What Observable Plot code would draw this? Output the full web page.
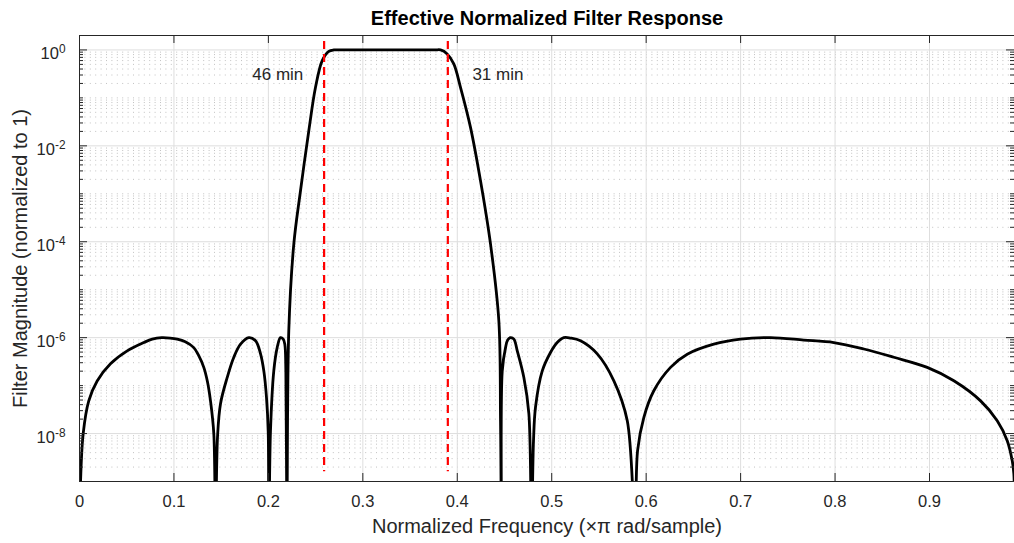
<!DOCTYPE html>
<html>
<head>
<meta charset="utf-8">
<script src="https://cdn.jsdelivr.net/npm/d3@7"></script>
<script src="https://cdn.jsdelivr.net/npm/@observablehq/plot@0.6"></script>
<style>
  html, body { margin: 0; padding: 0; background: #fff; }
  #chart svg { display: block; }
</style>
</head>
<body>
<div id="chart"></div>
<script>
// ---- Data ----
const freq = [
  0.0000, 0.0011, 0.0039, 0.0098, 0.0187, 0.0328, 0.0505, 0.0681, 0.0770, 0.0870,
  0.0960, 0.1035, 0.1120, 0.1210, 0.1260, 0.1316, 0.1355, 0.1387, 0.1422, 0.1440,
  0.1462, 0.1493, 0.1564, 0.1634, 0.1705, 0.1793, 0.1864, 0.1917, 0.1952, 0.1980,
  0.1998, 0.2005,
  0.2022, 0.2057, 0.2093, 0.2128, 0.2157, 0.2174, 0.2185, 0.2196,
  0.2216, 0.2269, 0.2340, 0.2428, 0.2499, 0.2570, 0.2640, 0.2693, 0.2750, 0.3760,
  0.3823, 0.3893, 0.3963, 0.4034, 0.4140, 0.4246, 0.4352, 0.4440, 0.4458, 0.4468,
  0.4476, 0.4511, 0.4535, 0.4564, 0.4599, 0.4635, 0.4705, 0.4758, 0.4786,
  0.4807, 0.4828, 0.4899, 0.4987, 0.5058, 0.5128, 0.5199, 0.5305, 0.5482, 0.5658,
  0.5800, 0.5882,
  0.5909, 0.5975, 0.6081, 0.6258, 0.6435, 0.6716, 0.6999, 0.7317, 0.7670, 0.7987,
  0.8305, 0.8622, 0.8976, 0.9258, 0.9541, 0.9717, 0.9823, 0.9876, 0.9893, 0.9900
];
const magnitude = [
  1e-10, 1.0e-9, 1.0e-8, 4.8e-8, 1.25e-7, 2.85e-7, 5.3e-7, 7.9e-7, 9.3e-7, 1.0e-6,
  9.8e-7, 9.3e-7, 8.2e-7, 6.2e-7, 4.3e-7, 2.4e-7, 1.2e-7, 4.8e-8, 1.0e-8, 1e-10,
  9e-9, 4.2e-8, 1.48e-7, 3.9e-7, 7.3e-7, 1.0e-6, 8.6e-7, 4.6e-7, 2.0e-7, 5.6e-8,
  1.1e-8, 1e-10,
  1.1e-8, 2.0e-7, 6.2e-7, 1.0e-6, 9.3e-7, 7.3e-7, 2.0e-7, 1e-10,
  1.4e-6, 8.9e-5, 1.16e-3, 2.07e-2, 0.166, 0.598, 0.935, 1.0, 1.0, 1.0,
  1.0, 0.826, 0.51, 0.166, 0.0243, 1.87e-3, 8.95e-5, 2.25e-6, 1.8e-8, 1e-10,
  2.0e-7, 6.2e-7, 9.0e-7, 1.0e-6, 9.3e-7, 5.3e-7, 1.47e-7, 2.6e-8, 1e-10,
  7e-9, 3.5e-8, 2.0e-7, 4.9e-7, 7.9e-7, 1.0e-6, 9.8e-7, 8.6e-7, 4.6e-7, 1.26e-7,
  1.85e-8, 1e-10,
  4.4e-9, 2.16e-8, 7.8e-8, 2.4e-7, 4.5e-7, 7.3e-7, 9.3e-7, 1.0e-6, 8.9e-7, 7.9e-7,
  5.8e-7, 3.9e-7, 2.4e-7, 1.26e-7, 4.8e-8, 1.85e-8, 7.1e-9, 2.7e-9, 1.45e-9, 1e-10
];
const cutoffFreqs = [0.259, 0.39];
const cutoffTop = 1.5;
const cutoffBottom = 1.6e-9;
const leftNoteX = [0.237];
const rightNoteX = [0.416];
const noteY = 0.305;
const leftNoteText = ["46 min"];
const rightNoteText = ["31 min"];
const xTicks = [0, 0.1, 0.2, 0.3, 0.4, 0.5, 0.6, 0.7, 0.8, 0.9];
const xTickLabels = ["0", "0.1", "0.2", "0.3", "0.4", "0.5", "0.6", "0.7", "0.8", "0.9"];
const yTicks = [1e0, 1e-2, 1e-4, 1e-6, 1e-8];
const yTickLabels = ["10^0", "10^-2", "10^-4", "10^-6", "10^-8"];
const xDomain = [0, 0.99];
const yDomain = [1e-9, 2];
const titleText = "Effective Normalized Filter Response";
const xLabelText = "Normalized Frequency (\u00D7\u03C0 rad/sample)";
const yLabelText = "Filter Magnitude (normalized to 1)";

// minor log positions (2..9 x 10^k and the unlabeled odd decades)
const minorTicks = [];
for (let k = -9; k <= 0; k++) {
  for (let m = 1; m <= 9; m++) {
    const v = m * Math.pow(10, k);
    if (v < yDomain[1] && v > yDomain[0] && !yTicks.some(t => Math.abs(Math.log10(t) - Math.log10(v)) < 1e-9)) minorTicks.push(v);
  }
}

const curve = freq.map((f, i) => ({f, m: magnitude[i]}));

const W = 1014, H = 543;
const mL = 79, mR = 0, mT = 35, mB = 62;
const fw = W - mL - mR, fh = H - mT - mB;
const font = "'Liberation Sans', Arial, Helvetica, sans-serif";
const axisColor = "#262626";

const svg = Plot.plot({
  width: W, height: H,
  marginLeft: mL, marginRight: mR, marginTop: mT, marginBottom: mB,
  style: {fontFamily: font, background: "#fff", overflow: "visible"},
  x: {domain: xDomain, axis: null},
  y: {type: "log", domain: yDomain, axis: null},
  marks: [
    // minor dotted grid
    Plot.ruleY(minorTicks, {stroke: "#c2c2c2", strokeWidth: 1, strokeDasharray: "1,4.4"}),
    // major grid
    Plot.ruleX(xTicks.slice(1), {stroke: "#dedede", strokeWidth: 1}),
    Plot.ruleY(yTicks, {stroke: "#dedede", strokeWidth: 1}),
    // filter response
    Plot.line(curve, {x: "f", y: "m", stroke: "#000", strokeWidth: 2.8, clip: true,
      curve: "catmull-rom", strokeLinejoin: "round"}),
    // cutoff markers
    Plot.ruleX(cutoffFreqs, {y1: cutoffTop, y2: cutoffBottom, stroke: "#ff0000", strokeWidth: 2.2, strokeDasharray: "8,5"}),
    Plot.text(leftNoteText, {x: leftNoteX, y: [noteY], textAnchor: "end", fontSize: 17, fill: axisColor}),
    Plot.text(rightNoteText, {x: rightNoteX, y: [noteY], textAnchor: "start", fontSize: 17, fill: axisColor}),
    // frame
    Plot.frame({stroke: axisColor, strokeWidth: 1}),
    // inward tick marks
    Plot.ruleX(xTicks, {insetTop: fh - 8, stroke: axisColor}),
    Plot.ruleX(xTicks, {insetBottom: fh - 8, stroke: axisColor}),
    Plot.ruleY(yTicks, {insetRight: fw - 8, stroke: axisColor}),
    Plot.ruleY(minorTicks, {insetRight: fw - 4, stroke: axisColor}),
    Plot.ruleY(yTicks, {insetLeft: fw - 8, stroke: axisColor}),
    Plot.ruleY(minorTicks, {insetLeft: fw - 4, stroke: axisColor}),
    // tick labels
    Plot.axisX({ticks: xTicks, tickSize: 0, tickPadding: 14, fontSize: 16.5, color: axisColor,
      tickFormat: d => xTickLabels[xTicks.findIndex(t => Math.abs(t - d) < 1e-9)], label: null}),
    Plot.axisY({ticks: yTicks, tickSize: 0, tickPadding: 14, fontSize: 16.5, color: axisColor, dy: 4,
      tickFormat: d => yTickLabels[yTicks.findIndex(t => Math.abs(Math.log10(t) - Math.log10(d)) < 1e-9)], label: null}),
    // titles
    Plot.text([titleText], {frameAnchor: "top", lineAnchor: "middle", dy: -17, fontSize: 20, fontWeight: "bold", fill: "#000"}),
    Plot.text([xLabelText], {frameAnchor: "bottom", lineAnchor: "middle", dy: 45, fontSize: 20, fill: axisColor}),
    Plot.text([yLabelText], {frameAnchor: "left", textAnchor: "middle", lineAnchor: "middle", dx: -59, rotate: -90, fontSize: 20, fill: axisColor})
  ]
});

// Turn "10^-2" labels into real superscripts
d3.select(svg).selectAll('g[aria-label="y-axis tick label"] text').each(function () {
  const s = this.textContent;
  const parts = s.split("^");
  if (parts.length === 2) {
    const t = d3.select(this);
    t.text(parts[0]);
    t.append("tspan").attr("dy", "-0.5em").attr("font-size", "0.72em").text(parts[1]);
  }
});

document.getElementById("chart").appendChild(svg);
</script>
</body>
</html>
